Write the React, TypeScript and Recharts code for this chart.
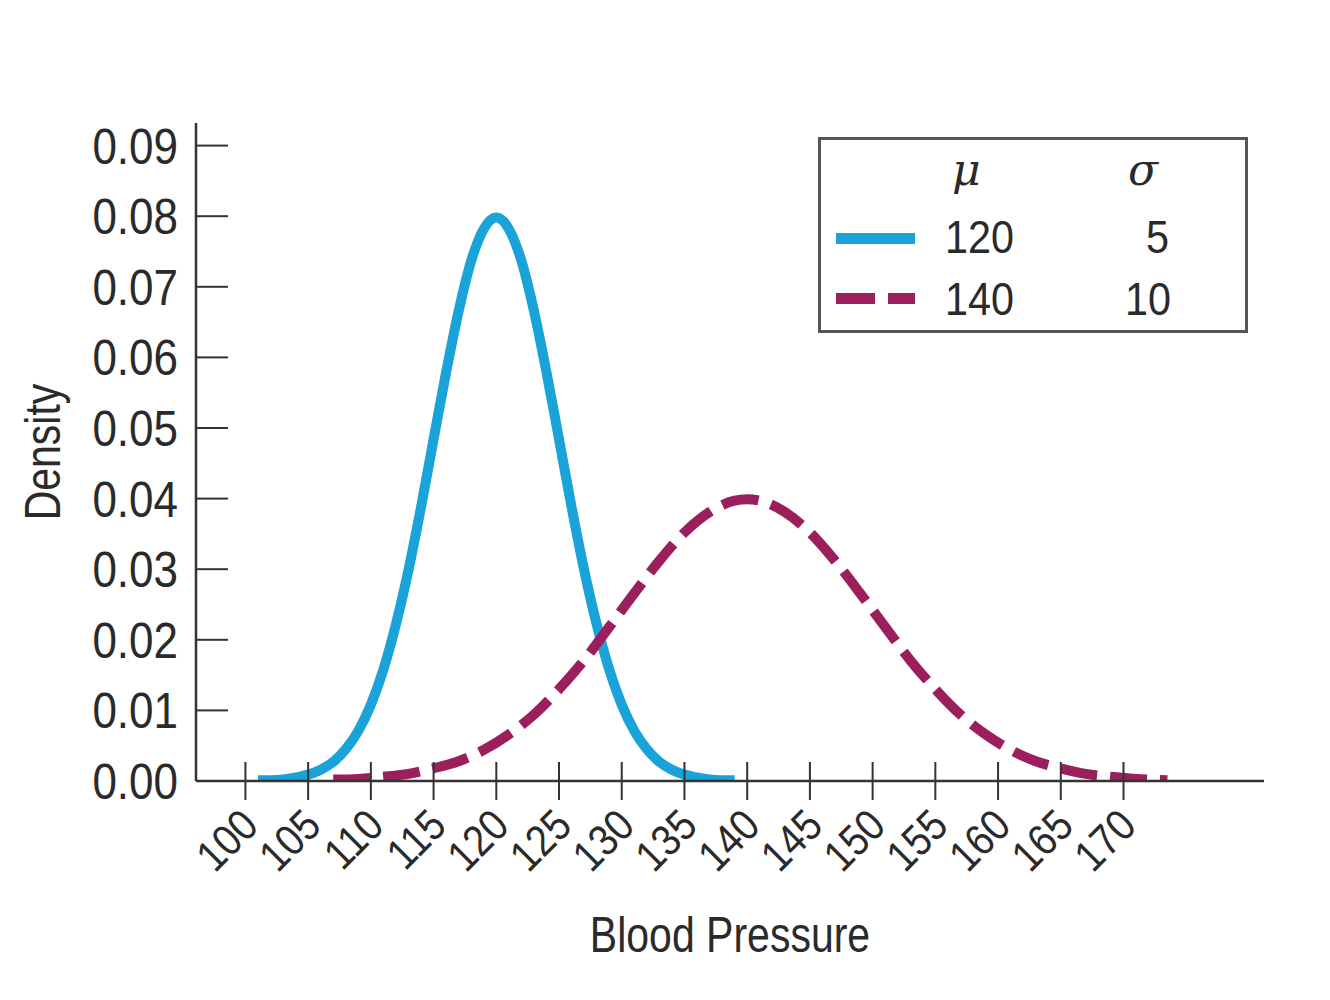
import React from "react";
import { LineChart, Line, XAxis, YAxis, Legend } from "recharts";

// Blood pressure values (x) and read densities
const bpX120 = [101,102,103,104,105,106,107,108,109,110,111,112,113,114,115,116,117,118,119,120,121,122,123,124,125,126,127,128,129,130,131,132,133,134,135,136,137,138,139];
const density120 = [0.0001,0.0001,0.0002,0.0005,0.0009,0.0016,0.0027,0.0045,0.0071,0.0108,0.0158,0.0222,0.0299,0.0388,0.0484,0.0579,0.0666,0.0737,0.0782,0.0798,0.0782,0.0737,0.0666,0.0579,0.0484,0.0388,0.0299,0.0222,0.0158,0.0108,0.0071,0.0045,0.0027,0.0016,0.0009,0.0005,0.0002,0.0001,0.0001];

const bpX140 = [107,109,111,113,115,117,119,121,123,125,127,129,131,133,135,137,139,140,141,143,145,147,149,151,153,155,157,159,161,163,165,167,169,171,173.5];
const density140 = [0.0002,0.0003,0.0006,0.001,0.0018,0.0028,0.0044,0.0066,0.0094,0.013,0.0171,0.0218,0.0266,0.0312,0.0352,0.0381,0.0397,0.0399,0.0397,0.0381,0.0352,0.0312,0.0266,0.0218,0.0171,0.013,0.0094,0.0066,0.0044,0.0028,0.0018,0.001,0.0006,0.0003,0.0001];

const xTicks = [100,105,110,115,120,125,130,135,140,145,150,155,160,165,170];
const yTicks = [0,0.01,0.02,0.03,0.04,0.05,0.06,0.07,0.08,0.09];

const legendMu = ["120", "140"];
const legendSigma = ["5", "10"];

const data120 = bpX120.map((x, i) => ({ x, y: density120[i] }));
const data140 = bpX140.map((x, i) => ({ x, y: density140[i] }));

const FONT = '"Liberation Sans", Arial, sans-serif';
const SERIF = '"DejaVu Serif", "Liberation Serif", serif';
const TEXT = "#2a2a2a";
const AXIS = "#333";
const BLUE = "#1aa3d9";
const MAROON = "#9b1f5d";

// condensed text: Liberation Sans squeezed horizontally
const NText = (p: any) => (
  <g transform={`translate(${p.x},${p.y}) rotate(${p.rotate || 0}) scale(${p.sx || 0.82},1)`}>
    <text x={0} y={0} textAnchor={p.anchor || "start"} fontFamily={FONT} fontSize={p.size} fill={TEXT}>
      {p.children}
    </text>
  </g>
);

const XTick = (props: any) => {
  const { x, y, payload } = props;
  return (
    <g>
      <line x1={x} x2={x} y1={y - 19} y2={y + 19} stroke={AXIS} strokeWidth={2} />
      <NText x={x + 15} y={y + 47} rotate={-45} anchor="end" size={44} sx={0.88}>
        {payload.value}
      </NText>
    </g>
  );
};

const YTick = (props: any) => {
  const { x, y, payload } = props;
  return (
    <g>
      <line x1={x} x2={x + 32} y1={y} y2={y} stroke={AXIS} strokeWidth={2} />
      <NText x={x - 18} y={y + 18} anchor="end" size={50} sx={0.88}>
        {Number(payload.value).toFixed(2)}
      </NText>
    </g>
  );
};

const XLabel = (props: any) => {
  const vb = props.viewBox || {};
  const cx = vb.x + vb.width / 2;
  return (
    <NText x={cx} y={vb.y + 171} anchor="middle" size={50}>
      Blood Pressure
    </NText>
  );
};

const YLabel = (props: any) => {
  const vb = props.viewBox || {};
  const cy = vb.y + vb.height / 2;
  return (
    <NText x={60} y={cy} rotate={-90} anchor="middle" size={50}>
      Density
    </NText>
  );
};

const LegendBox = () => (
  <svg width={430} height={196} style={{ display: "block" }}>
    <rect x={1.5} y={1.5} width={427} height={193} fill="#fff" stroke="#555" strokeWidth={3} />
    <text x={134} y={48} fontFamily={SERIF} fontStyle="italic" fontSize={44} fill={TEXT}>μ</text>
    <text x={310} y={48} fontFamily={SERIF} fontStyle="italic" fontSize={44} fill={TEXT}>σ</text>
    <line x1={18} x2={97} y1={101.5} y2={101.5} stroke={BLUE} strokeWidth={11} />
    <NText x={127} y={116} size={47} sx={0.88}>{legendMu[0]}</NText>
    <NText x={351} y={116} anchor="end" size={47} sx={0.88}>{legendSigma[0]}</NText>
    <line x1={18} x2={97} y1={161.5} y2={161.5} stroke={MAROON} strokeWidth={11} strokeDasharray="39 13" />
    <NText x={127} y={178} size={47} sx={0.88}>{legendMu[1]}</NText>
    <NText x={353} y={178} anchor="end" size={47} sx={0.88}>{legendSigma[1]}</NText>
  </svg>
);

export default function App() {
  return (
    <div style={{ position: "absolute", left: 0, top: 0, background: "#fff" }}>
      <LineChart width={1330} height={1000} margin={{ top: 123, right: 66, bottom: 0, left: 0 }}>
        <XAxis
          dataKey="x"
          type="number"
          domain={[96.06, 181.2]}
          allowDataOverflow
          ticks={xTicks}
          interval={0}
          tickSize={0}
          tickMargin={0}
          tickLine={false}
          tick={<XTick />}
          height={219}
          axisLine={{ stroke: AXIS, strokeWidth: 2.5 }}
          label={<XLabel />}
        />
        <YAxis
          type="number"
          domain={[0, 0.0932]}
          allowDataOverflow
          ticks={yTicks}
          interval={0}
          tickSize={0}
          tickMargin={0}
          tickLine={false}
          tick={<YTick />}
          width={196}
          axisLine={{ stroke: AXIS, strokeWidth: 2.5 }}
          label={<YLabel />}
        />
        <Line data={data120} dataKey="y" type="monotone" stroke={BLUE} strokeWidth={10} dot={false} activeDot={false} isAnimationActive={false} />
        <Line data={data140} dataKey="y" type="monotone" stroke={MAROON} strokeWidth={10} strokeDasharray="37 13" dot={false} activeDot={false} isAnimationActive={false} />
        <Legend
          layout="vertical"
          align="center"
          verticalAlign="middle"
          content={<LegendBox />}
          wrapperStyle={{ position: "absolute", left: 818, top: 137, width: 430, height: 196 }}
        />
      </LineChart>
    </div>
  );
}
